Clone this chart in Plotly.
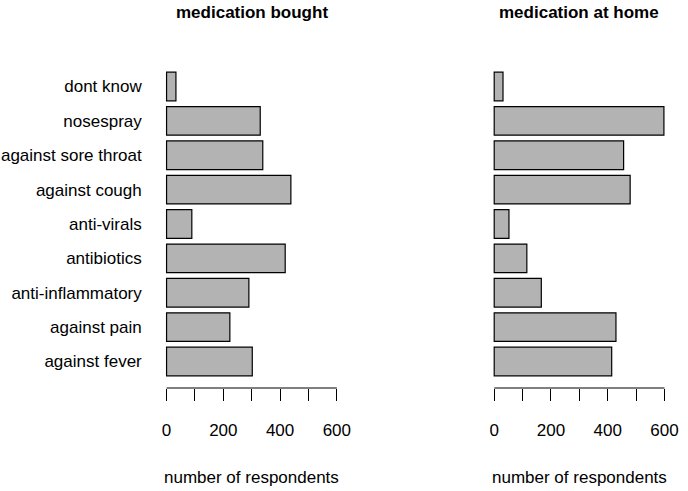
import plotly.graph_objects as go

categories = ["against fever", "against pain", "anti-inflammatory", "antibiotics",
              "anti-virals", "against cough", "against sore throat", "nosespray", "dont know"]
bought = [302, 223, 290, 418, 89, 438, 339, 330, 33]
at_home = [414, 429, 166, 115, 52, 479, 456, 598, 31]
tick_vals = [0, 100, 200, 300, 400, 500, 600]
tick_text = ["0", "", "200", "", "400", "", "600"]
titles = ["medication bought", "medication at home"]
x_title = "number of respondents"

FONT = "Liberation Sans, Arial, Helvetica, sans-serif"
W, H = 688, 491
T, B = 60, 103
plot_h = H - T - B

def py(p):
    return (H - B - p) / plot_h

fig = go.Figure()
for i, vals in enumerate([bought, at_home]):
    fig.add_trace(go.Bar(
        x=vals, y=categories, orientation="h",
        xaxis="x" if i == 0 else "x2", yaxis="y" if i == 0 else "y2",
        marker=dict(color="#B3B3B3", line=dict(color="#000000", width=1.2)),
        showlegend=False, hoverinfo="x+y",
    ))

xcommon = dict(range=[-24, 624], tickvals=tick_vals, ticktext=tick_text, ticks="outside",
               ticklen=12, tickwidth=1.2, tickcolor="black", showgrid=False, zeroline=False,
               showline=False, tickfont=dict(family=FONT, size=17, color="black"),
               ticklabelstandoff=15, fixedrange=True)
ycommon = dict(range=[-0.77, 8.77], categoryorder="array", categoryarray=categories,
               showgrid=False, zeroline=False, showline=False, ticks="", fixedrange=True,
               tickfont=dict(family=FONT, size=17, color="black"))

fig.update_layout(
    width=W, height=H,
    margin=dict(l=0, r=0, t=T, b=B),
    paper_bgcolor="white", plot_bgcolor="white",
    bargap=1 - 1 / 1.2,
    xaxis=dict(domain=[161.4 / W, 347.2 / W], anchor="y", **xcommon),
    xaxis2=dict(domain=[492.4 / W, 678.2 / W], anchor="y2", **xcommon),
    yaxis=dict(anchor="x", showticklabels=True, ticklabelstandoff=17, **ycommon),
    yaxis2=dict(anchor="x2", showticklabels=False, **ycommon),
)

shapes = []
annotations = []
for i, xr in enumerate(["x", "x2"]):
    shapes.append(dict(type="line", xref=xr, yref="paper", x0=tick_vals[0], x1=tick_vals[-1],
                       y0=0, y1=0, line=dict(color="black", width=1.2)))
    dom = "x domain" if i == 0 else "x2 domain"
    annotations.append(dict(text="<b>" + titles[i] + "</b>", xref=dom, x=0.5, yref="paper",
                            y=py(12), xanchor="center", yanchor="middle", showarrow=False,
                            font=dict(family=FONT, size=17, color="black")))
    annotations.append(dict(text=x_title, xref=dom, x=0.5, yref="paper", y=py(477.5),
                            xanchor="center", yanchor="middle", showarrow=False,
                            font=dict(family=FONT, size=17, color="black")))
fig.update_layout(shapes=shapes, annotations=annotations)

fig.write_html("out.html", config={"displayModeBar": False},
               post_script="document.body.style.margin='0px';document.body.style.padding='0px';")
